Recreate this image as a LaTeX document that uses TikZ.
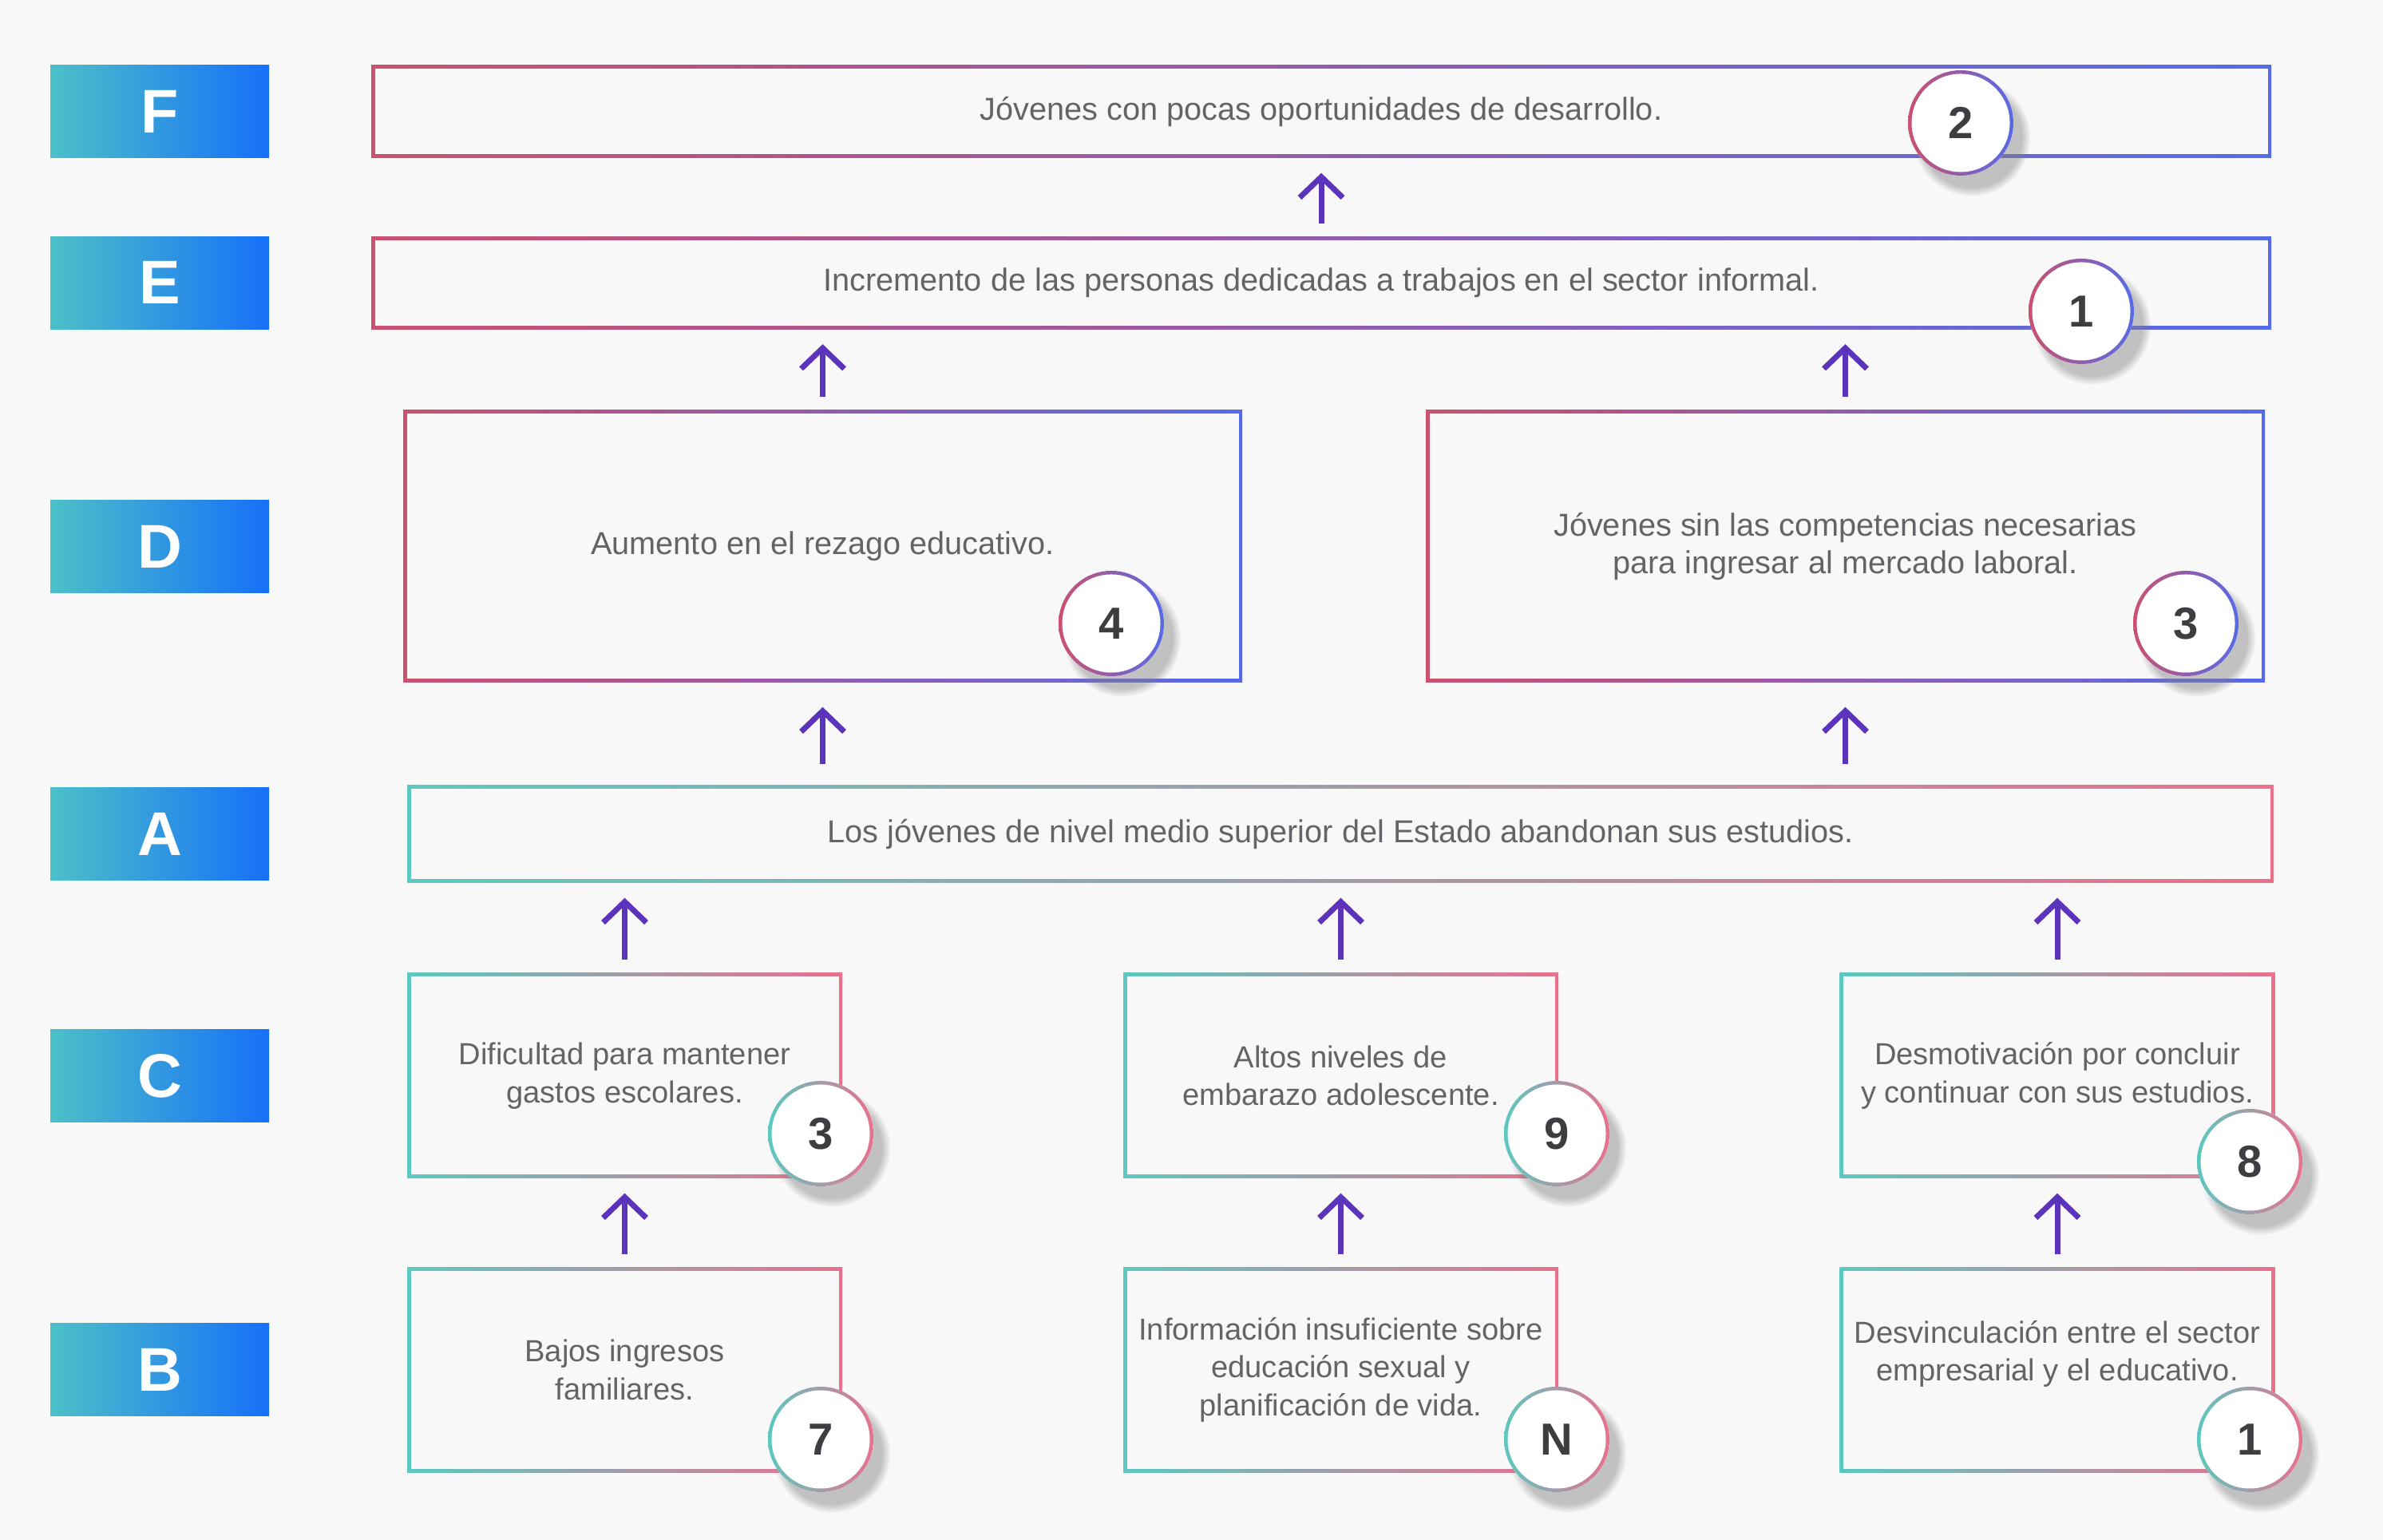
\documentclass[tikz,border=0pt]{standalone}
\usepackage{fontspec}
\setmainfont{Liberation Sans}
\usetikzlibrary{arrows.meta, positioning, shadows}

\definecolor{fondo}{RGB}{248,248,249}
\definecolor{rojo}{RGB}{204,80,112}
\definecolor{azul}{RGB}{86,106,232}
\definecolor{turq}{RGB}{92,200,192}
\definecolor{rosa}{RGB}{234,112,142}
\definecolor{tagA}{RGB}{76,192,200}
\definecolor{tagB}{RGB}{22,112,248}
\definecolor{morado}{RGB}{92,52,188}
\definecolor{texto}{RGB}{100,100,104}
\definecolor{cifra}{RGB}{62,62,66}

\begin{document}
\begin{tikzpicture}[>={Straight Barb[length=2.6mm,width=5.4mm]}, font=\fontsize{11.3}{13.5}\selectfont]
  \tikzstyle{topbox}=[fill=fondo, text=texto, align=center, inner sep=0pt,
    path picture={
      \shade[left color=rojo, right color=azul] (path picture bounding box.south west) rectangle (path picture bounding box.north east);
      \fill[fondo] ([shift={(0.45mm,0.45mm)}]path picture bounding box.south west) rectangle ([shift={(-0.45mm,-0.45mm)}]path picture bounding box.north east);}]
  \tikzstyle{lowbox}=[fill=fondo, text=texto, align=center, inner sep=0pt,
    path picture={
      \shade[left color=turq, right color=rosa] (path picture bounding box.south west) rectangle (path picture bounding box.north east);
      \fill[fondo] ([shift={(0.45mm,0.45mm)}]path picture bounding box.south west) rectangle ([shift={(-0.45mm,-0.45mm)}]path picture bounding box.north east);}]
  \tikzstyle{causa}=[lowbox, minimum width=5.45cm, minimum height=2.57cm, font=\fontsize{10.85}{13.5}\selectfont]
  \tikzstyle{badge}=[circle, minimum size=13.2mm, inner sep=0pt, fill=white, text=cifra,
    font=\fontsize{16}{16}\selectfont\bfseries,
    circular drop shadow={shadow xshift=1.2mm, shadow yshift=-1.6mm, shadow scale=1.12, opacity=0.45}]
  \tikzstyle{topbadge}=[badge,
    path picture={
      \shade[left color=rojo, right color=azul] (path picture bounding box.south west) rectangle (path picture bounding box.north east);
      \fill[white] (path picture bounding box.center) circle (6.15mm);}]
  \tikzstyle{lowbadge}=[badge,
    path picture={
      \shade[left color=turq, right color=rosa] (path picture bounding box.south west) rectangle (path picture bounding box.north east);
      \fill[white] (path picture bounding box.center) circle (6.15mm);}]
  \tikzstyle{tag}=[left color=tagA, right color=tagB, minimum width=2.74cm, minimum height=1.16cm,
    text=white, font=\fontsize{22}{22}\selectfont\bfseries]
  \tikzstyle{flecha}=[->, draw=morado, line width=0.7mm, line join=round, shorten <=1.6mm, shorten >=1.8mm]

  \fill[fondo] (0,0) rectangle (29.85,19.29);

  % Effects (top -> bottom)
  \node[topbox, minimum width=23.8cm, minimum height=1.16cm] (f) at (16.55,17.89) {Jóvenes con pocas oportunidades de desarrollo.};
  \node[topbox, minimum width=23.8cm, minimum height=1.16cm, below=0.97cm of f] (e) {Incremento de las personas dedicadas a trabajos en el sector informal.};
  \node[topbox, minimum width=10.51cm, minimum height=3.41cm] (dl) at (10.305,12.445) {Aumento en el rezago educativo.};
  \node[topbox, minimum width=10.51cm, minimum height=3.41cm] (dr) at (23.115,12.445) {Jóvenes sin las competencias necesarias\\para ingresar al mercado laboral.};

  % Central problem
  \node[lowbox, minimum width=23.38cm, minimum height=1.22cm] (a) at (16.79,8.84) {Los jóvenes de nivel medio superior del Estado abandonan sus estudios.};

  % Causes
  \node[causa] (c1) at (7.825,5.815) {Dificultad para mantener\\gastos escolares.};
  \node[causa] (c2) at (16.795,5.815) {Altos niveles de\\embarazo adolescente.};
  \node[causa] (c3) at (25.77,5.815) {Desmotivación por concluir\\y continuar con sus estudios.};
  \node[causa, below=1.10cm of c1] (b1) {Bajos ingresos\\familiares.};
  \node[causa, below=1.10cm of c2] (b2) {Información insuficiente sobre\\educación sexual y\\planificación de vida.};
  \node[causa, below=1.10cm of c3] (b3) {Desvinculación entre el sector\\empresarial y el educativo.\\~};

  % Row tags
  \coordinate (tagx) at (2.0,0);
  \node[tag] (tF) at (tagx |- f) {F};
  \node[tag] (tE) at (tagx |- e) {E};
  \node[tag] (tD) at (tagx |- dl) {D};
  \node[tag] (tA) at (tagx |- a) {A};
  \node[tag] (tC) at (tagx |- c1) {C};
  \node[tag] (tB) at (tagx |- b1) {B};

  % Arrows
  \draw[flecha] (e) -- (f);
  \draw[flecha] (dl) -- (dl |- e.south);
  \draw[flecha] (dr) -- (dr |- e.south);
  \draw[flecha, shorten <=2.6mm, shorten >=3mm] (a.north -| dl) -- (dl);
  \draw[flecha, shorten <=2.6mm, shorten >=3mm] (a.north -| dr) -- (dr);
  \draw[flecha] (c1) -- (c1 |- a.south);
  \draw[flecha] (c2) -- (c2 |- a.south);
  \draw[flecha] (c3) -- (c3 |- a.south);
  \draw[flecha] (b1) -- (c1);
  \draw[flecha] (b2) -- (c2);
  \draw[flecha] (b3) -- (c3);

  % Badges
  \node[topbadge] (nf) at (24.56,17.75) {2};
  \node[topbadge] (ne) at (26.07,15.39) {1};
  \node[topbadge] (ndl) at (13.92,11.48) {4};
  \node[topbadge] (ndr) at (27.38,11.48) {3};
  \node[lowbadge] (nc1) at (10.28,5.09) {3};
  \node[lowbadge] (nc2) at (19.50,5.09) {9};
  \node[lowbadge] (nc3) at (28.18,4.74) {8};
  \node[lowbadge] (nb1) at (10.28,1.26) {7};
  \node[lowbadge] (nb2) at (19.50,1.26) {N};
  \node[lowbadge] (nb3) at (28.18,1.26) {1};
\end{tikzpicture}
\end{document}
